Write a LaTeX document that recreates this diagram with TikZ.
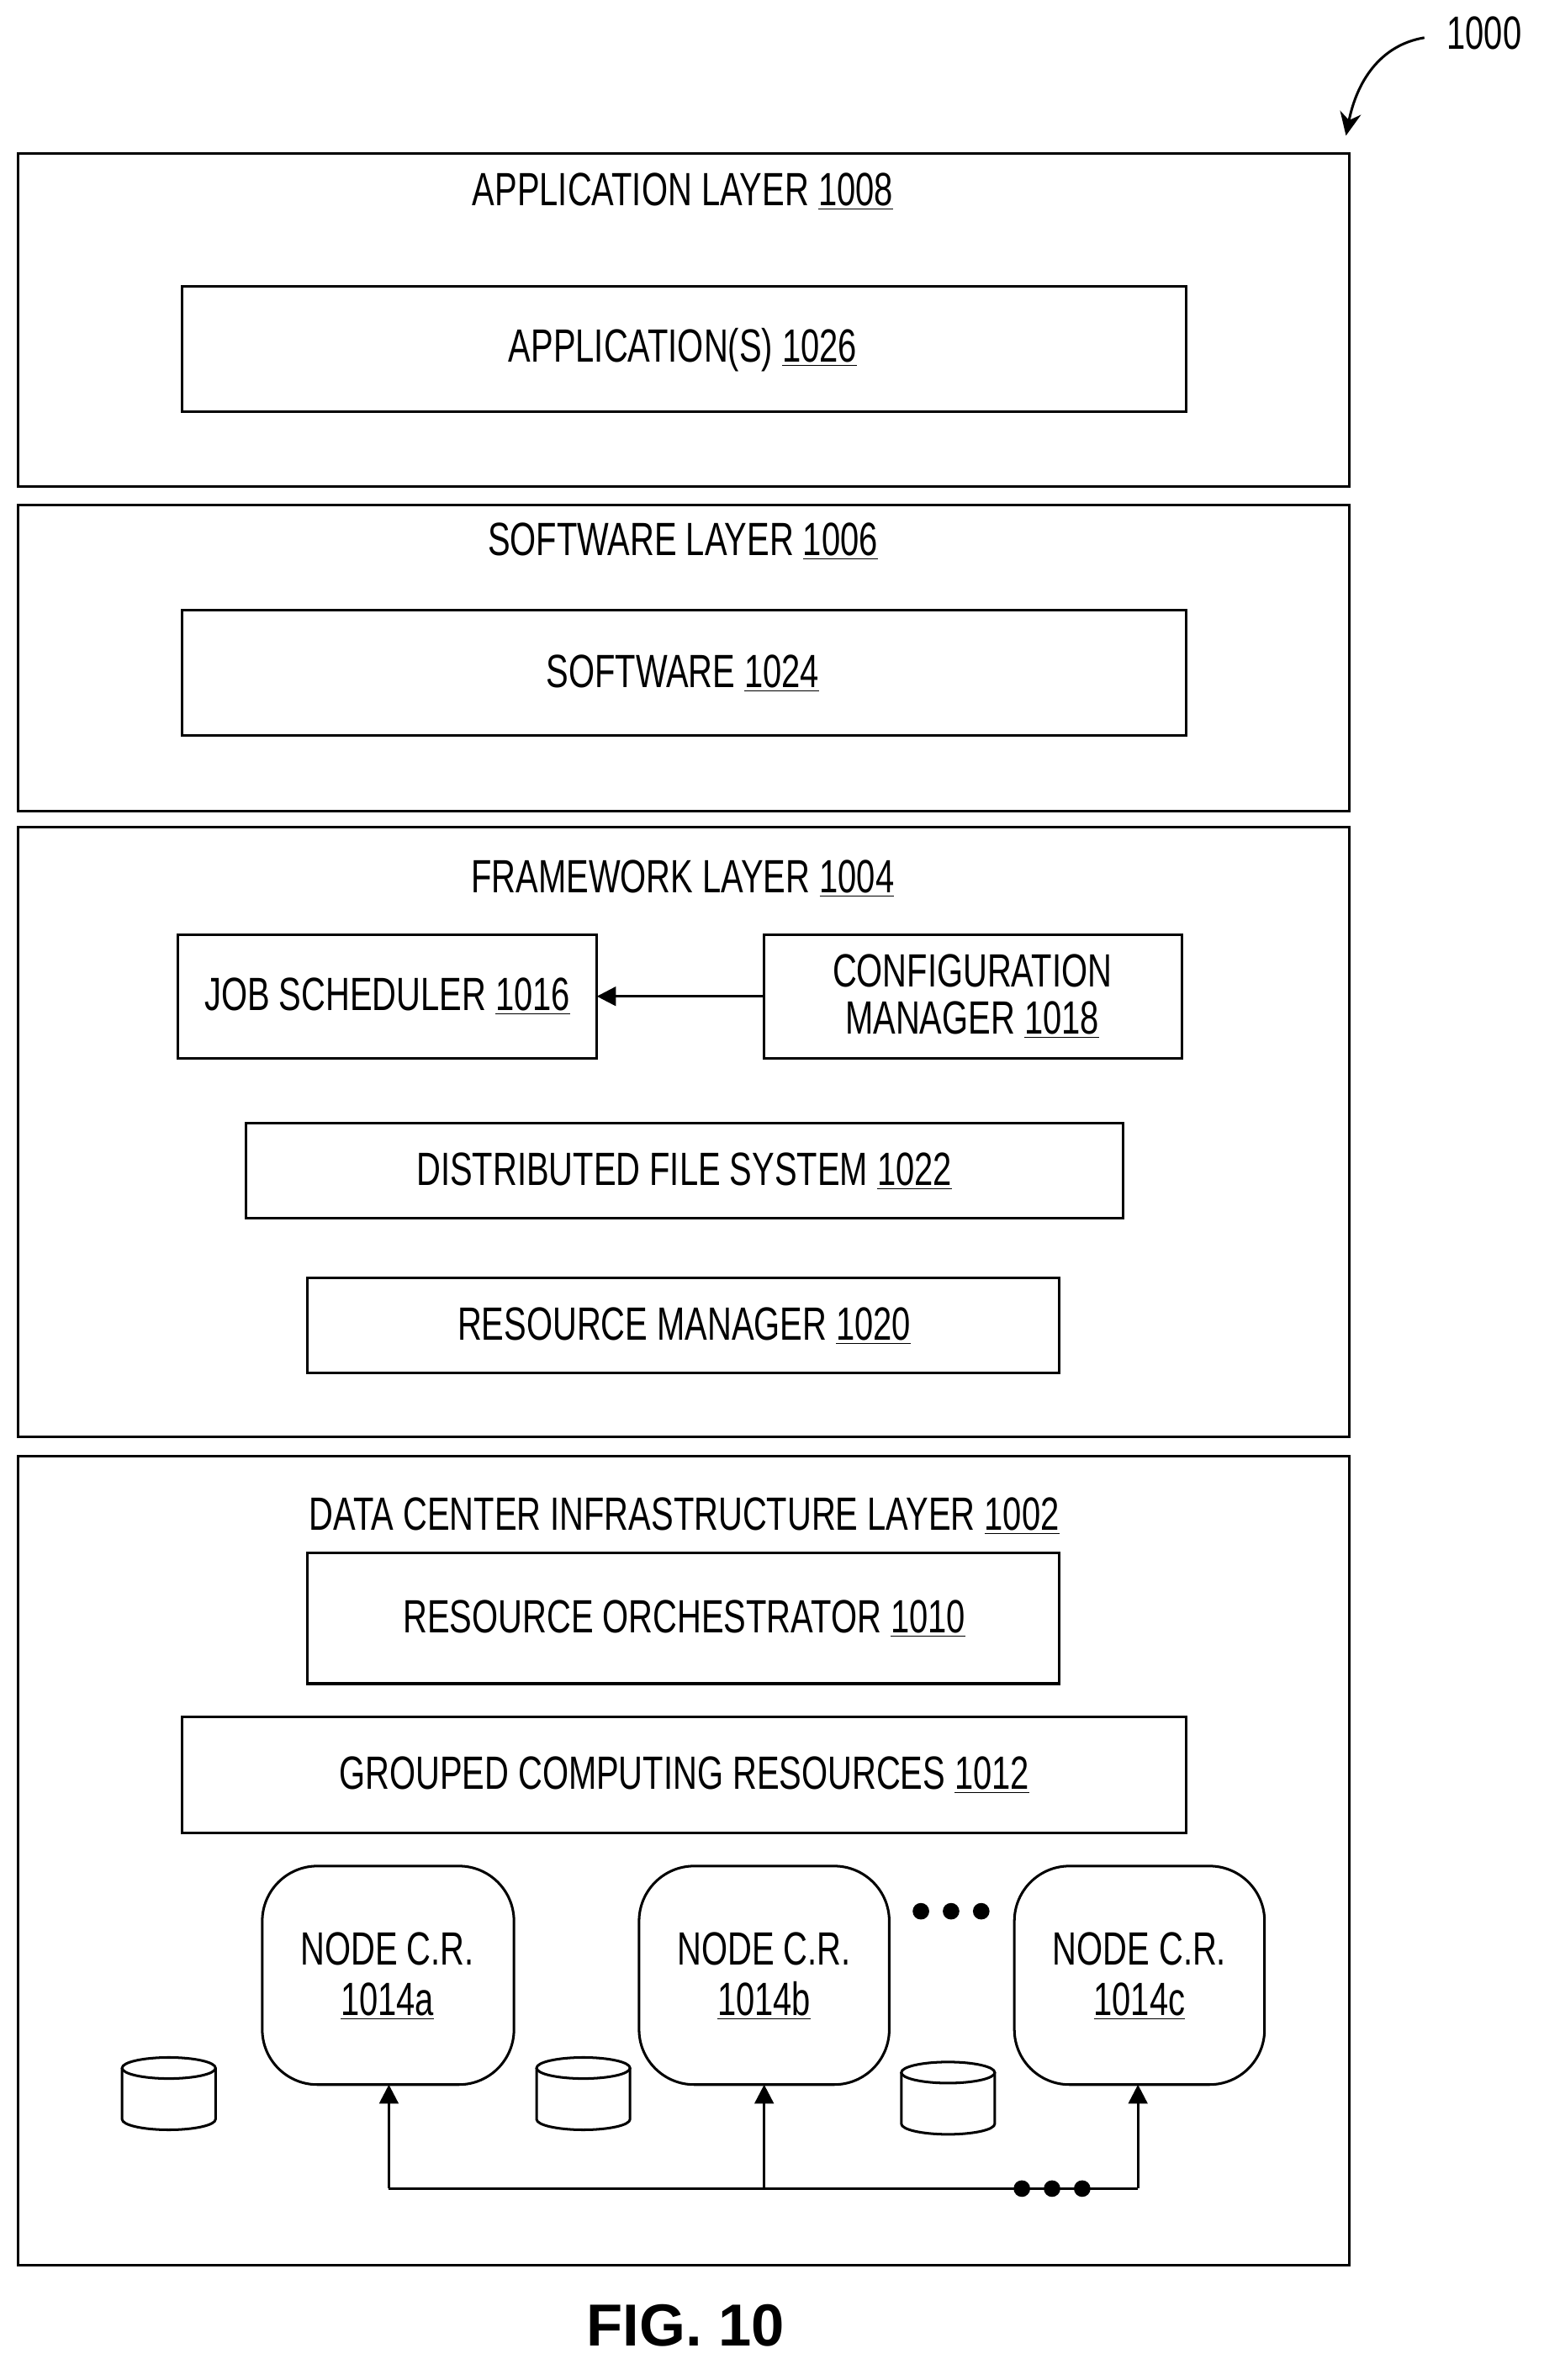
\documentclass[tikz,border=0pt]{standalone}
\usepackage{fontspec}
\setmainfont{Liberation Sans}[FakeStretch=0.72]
\newfontfamily\figfont{Liberation Sans}
\usetikzlibrary{arrows.meta}
\newcommand{\un}[1]{\underline{#1}}
\begin{document}
\begin{tikzpicture}[x=0.025cm,y=-0.025cm,
  box/.style={draw,line width=1.2pt,inner sep=0pt},
  lbl/.style={font=\fontsize{22}{26}\selectfont,align=center},
  nd/.style={draw,line width=1.2pt,rounded corners=26pt},
  arr/.style={line width=1.2pt,-{Triangle[length=9pt,width=9pt]}},
  cyl/.style={line width=1.2pt,fill=white}]
\useasboundingbox (0,0) rectangle (1024,1579);
% layers
\draw[box] (12,102) rectangle (895,323);
\node[lbl] (appt) at (453,127) {APPLICATION LAYER \un{1008}};
\draw[box] (121,190) rectangle (787,273);
\node[lbl] (apps) at (453,232) {APPLICATION(S) \un{1026}};
\draw[box] (12,335) rectangle (895,538);
\node[lbl] (swt) at (453,359) {SOFTWARE LAYER \un{1006}};
\draw[box] (121,405) rectangle (787,488);
\node[lbl] (sw) at (453,447) {SOFTWARE \un{1024}};
\draw[box] (12,549) rectangle (895,953);
\node[lbl] (fwt) at (453,583) {FRAMEWORK LAYER \un{1004}};
\draw[box] (118,620) rectangle (396,702);
\node[lbl] (js) at (257,661) {JOB SCHEDULER \un{1016}};
\draw[box] (507,620) rectangle (784,702);
\node[lbl] (cm) at (645,661) {CONFIGURATION\\[-4pt]MANAGER \un{1018}};
\coordinate (cmL) at (507,661);
\coordinate (jsR) at (396,661);
\draw[arr] (cmL) -- (jsR);
\draw[box] (163,745) rectangle (745,808);
\node[lbl] (dfs) at (454,777) {DISTRIBUTED FILE SYSTEM \un{1022}};
\draw[box] (204,848) rectangle (703,911);
\node[lbl] (rm) at (454,880) {RESOURCE MANAGER \un{1020}};
\draw[box] (12,966) rectangle (895,1503);
\node[lbl] (dct) at (454,1006) {DATA CENTER INFRASTRUCTURE LAYER \un{1002}};
\draw[box] (204,1030) rectangle (703,1117);
\node[lbl] (ro) at (454,1074) {RESOURCE ORCHESTRATOR \un{1010}};
\draw[box] (121,1139) rectangle (787,1216);
\node[lbl] (gcr) at (454,1178) {GROUPED COMPUTING RESOURCES \un{1012}};
% nodes
\draw[nd] (174,1238) rectangle (341,1383);
\draw[nd] (424,1238) rectangle (590,1383);
\draw[nd] (673,1238) rectangle (839,1383);
\node[lbl] (na) at (257,1311) {NODE C.R.\\[-2pt]\un{1014a}};
\node[lbl] (nb) at (507,1311) {NODE C.R.\\[-2pt]\un{1014b}};
\node[lbl] (nc) at (756,1311) {NODE C.R.\\[-2pt]\un{1014c}};
\foreach \x in {611,631,651} \fill (\x,1268) circle (5.5);
% cylinders
\foreach \cx/\top in {112/1372, 387/1372, 629/1375}{
  \draw[cyl] (\cx-31,\top) -- (\cx-31,\top+34) arc[start angle=180,end angle=0,x radius=31,y radius=7] -- (\cx+31,\top);
  \draw[cyl] (\cx,\top) ellipse[x radius=31,y radius=7];
}
% bus
\coordinate (ba) at (258,1452);
\coordinate (bb) at (507,1452);
\coordinate (bc) at (755,1452);
\draw[line width=1.2pt] (ba) -- (bc);
\draw[arr] (ba) -- (258,1383);
\draw[arr] (bb) -- (507,1383);
\draw[arr] (bc) -- (755,1383);
\foreach \x in {678,698,718} \fill (\x,1452) circle (5.5);
% ref label
\node[lbl,anchor=west] (ref) at (955,22) {1000};
\draw[line width=1.2pt,-{Stealth[length=11pt,width=10pt]}] (945,25) .. controls (915,30) and (900,55) .. (893,90);
\node[font=\figfont\bfseries\fontsize{28}{32}\selectfont] (fig) at (455,1543) {FIG. 10};
\end{tikzpicture}
\end{document}
